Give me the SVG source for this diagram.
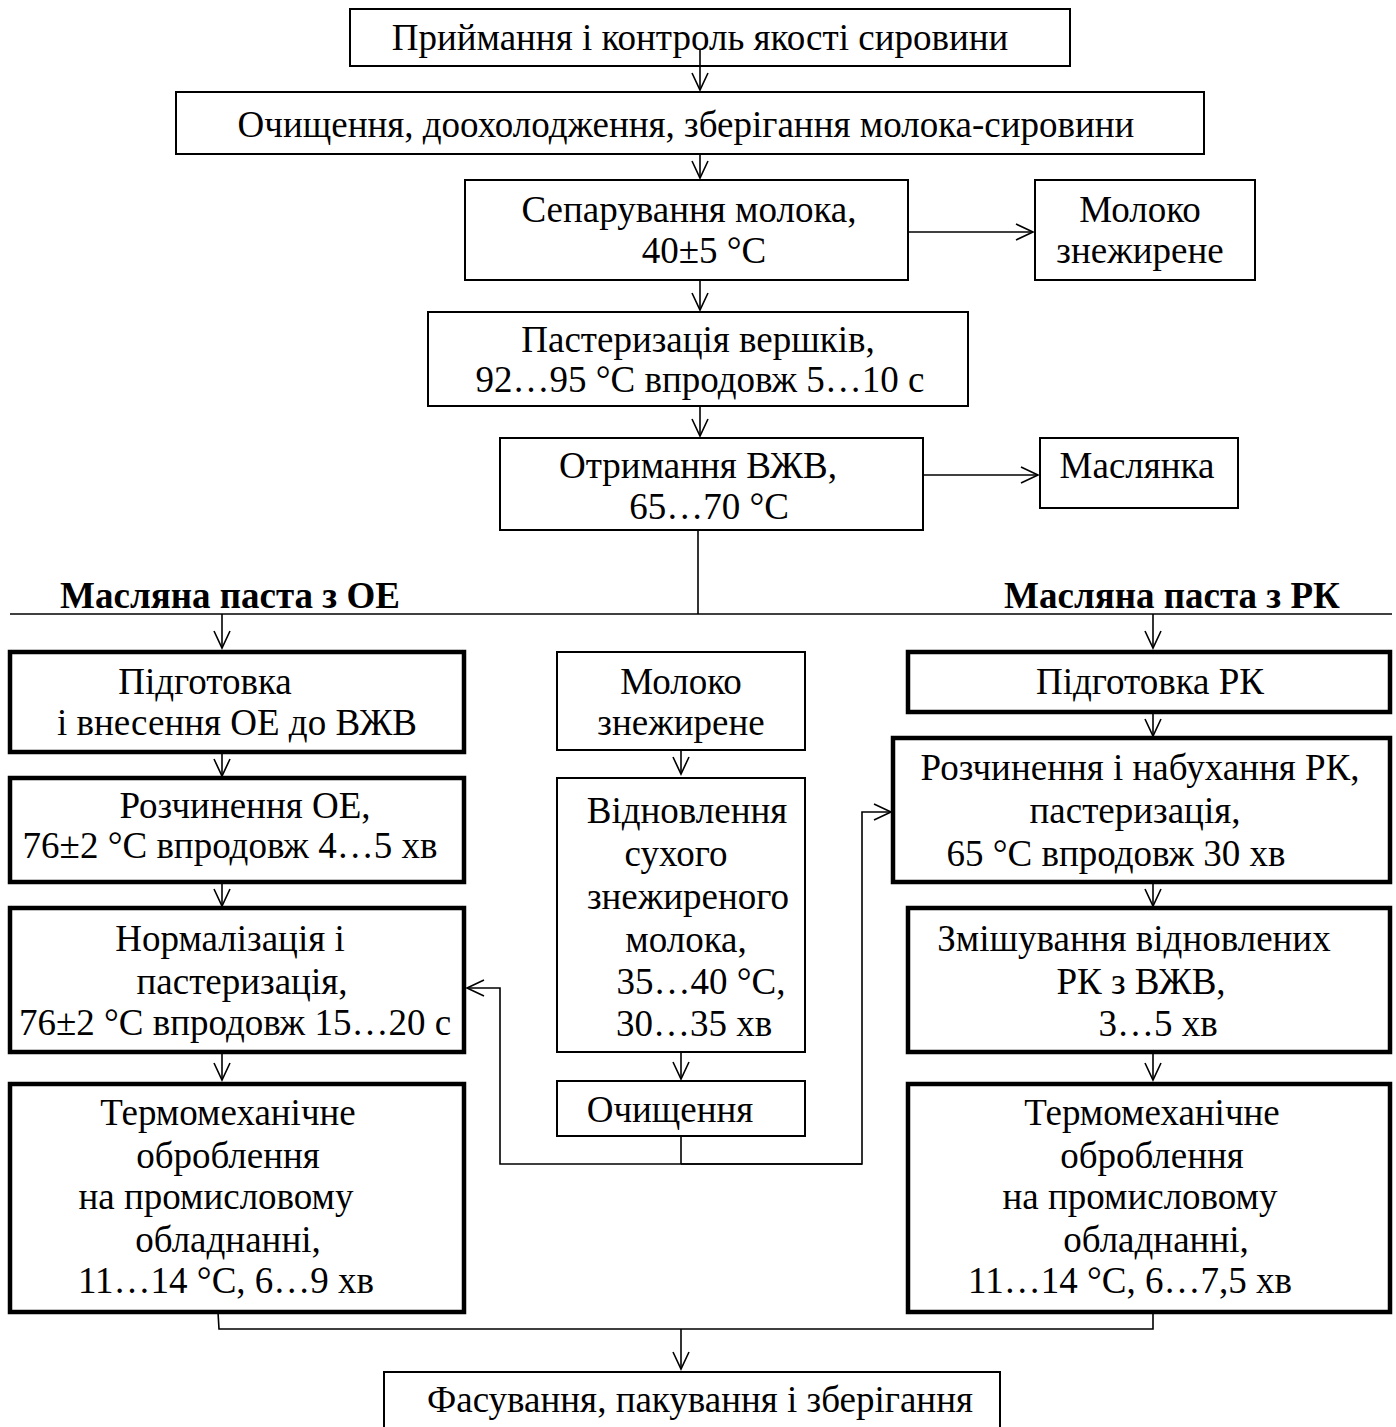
<svg xmlns="http://www.w3.org/2000/svg" width="1396" height="1427" viewBox="0 0 1396 1427">
<defs>
<marker id="ah" markerUnits="userSpaceOnUse" markerWidth="22" markerHeight="22" viewBox="-20 -11 22 22" refX="0" refY="0" orient="auto">
<path d="M-17,-8 L0,0 L-17,8" fill="none" stroke="#000" stroke-width="1.6"/>
</marker>
<style>
.b{fill:#fff;stroke:#000;stroke-width:2}
.k{fill:#fff;stroke:#000;stroke-width:4.5}
.t{font-family:"Liberation Serif","Times New Roman",serif;font-size:37px;fill:#000;text-anchor:middle}
.h{font-family:"Liberation Serif","Times New Roman",serif;font-size:37px;font-weight:bold;fill:#000;text-anchor:middle}
.c{fill:none;stroke:#000;stroke-width:1.6}
.a{fill:none;stroke:#000;stroke-width:1.6;marker-end:url(#ah)}
</style>
</defs>
<rect width="1396" height="1427" fill="#fff"/>

<g id="n1"><rect class="b" x="350" y="9" width="720" height="57"/><text class="t" x="700" y="50">Приймання і контроль якості сировини</text></g>
<g id="n2"><rect class="b" x="176" y="92" width="1028" height="62"/><text class="t" x="686" y="137">Очищення, доохолодження, зберігання молока-сировини</text></g>
<g id="n3"><rect class="b" x="465" y="180" width="443" height="100"/><text class="t" x="689" y="222">Сепарування молока,</text><text class="t" x="704" y="263">40±5 °С</text></g>
<g id="n3b"><rect class="b" x="1035" y="180" width="220" height="100"/><text class="t" x="1140" y="222">Молоко</text><text class="t" x="1140" y="263">знежирене</text></g>
<g id="n4"><rect class="b" x="428" y="312" width="540" height="94"/><text class="t" x="698" y="352">Пастеризація вершків,</text><text class="t" x="700" y="392">92…95 °С впродовж 5…10 с</text></g>
<g id="n5"><rect class="b" x="500" y="438" width="423" height="92"/><text class="t" x="698" y="478">Отримання ВЖВ,</text><text class="t" x="709" y="519">65…70 °С</text></g>
<g id="n5b"><rect class="b" x="1040" y="438" width="198" height="70"/><text class="t" x="1137" y="478">Маслянка</text></g>

<g id="labels"><text class="h" x="230" y="608">Масляна паста з ОЕ</text><text class="h" x="1172" y="608">Масляна паста з РК</text></g>

<g id="l1"><rect class="k" x="10" y="652" width="454" height="100"/><text class="t" x="205" y="694">Підготовка</text><text class="t" x="237" y="735">і внесення ОЕ до ВЖВ</text></g>
<g id="l2"><rect class="k" x="10" y="778" width="454" height="104"/><text class="t" x="245" y="818">Розчинення ОЕ,</text><text class="t" x="230" y="858">76±2 °С впродовж 4…5 хв</text></g>
<g id="l3"><rect class="k" x="10" y="908" width="454" height="144"/><text class="t" x="230" y="951">Нормалізація і</text><text class="t" x="242" y="994">пастеризація,</text><text class="t" x="235" y="1035">76±2 °С впродовж 15…20 с</text></g>
<g id="l4"><rect class="k" x="10" y="1084" width="454" height="228"/><text class="t" x="228" y="1125">Термомеханічне</text><text class="t" x="228" y="1168">оброблення</text><text class="t" x="216" y="1209">на промисловому</text><text class="t" x="228" y="1252">обладнанні,</text><text class="t" x="226" y="1293">11…14 °С, 6…9 хв</text></g>

<g id="c1"><rect class="b" x="557" y="652" width="248" height="98"/><text class="t" x="681" y="694">Молоко</text><text class="t" x="681" y="735">знежирене</text></g>
<g id="c2"><rect class="b" x="557" y="778" width="248" height="274"/><text class="t" x="687" y="823">Відновлення</text><text class="t" x="676" y="866">сухого</text><text class="t" x="688" y="909">знежиреного</text><text class="t" x="686" y="952">молока,</text><text class="t" x="701" y="994">35…40 °С,</text><text class="t" x="694" y="1036">30…35 хв</text></g>
<g id="c3"><rect class="b" x="557" y="1081" width="248" height="55"/><text class="t" x="670" y="1122">Очищення</text></g>

<g id="r1"><rect class="k" x="908" y="652" width="482" height="60"/><text class="t" x="1150" y="694">Підготовка РК</text></g>
<g id="r2"><rect class="k" x="893" y="738" width="497" height="144"/><text class="t" x="1140" y="780">Розчинення і набухання РК,</text><text class="t" x="1135" y="823">пастеризація,</text><text class="t" x="1116" y="866">65 °С впродовж 30 хв</text></g>
<g id="r3"><rect class="k" x="908" y="908" width="482" height="144"/><text class="t" x="1134" y="951">Змішування відновлених</text><text class="t" x="1141" y="994">РК з ВЖВ,</text><text class="t" x="1158" y="1036">3…5 хв</text></g>
<g id="r4"><rect class="k" x="908" y="1084" width="482" height="228"/><text class="t" x="1152" y="1125">Термомеханічне</text><text class="t" x="1152" y="1168">оброблення</text><text class="t" x="1140" y="1209">на промисловому</text><text class="t" x="1156" y="1252">обладнанні,</text><text class="t" x="1130" y="1293">11…14 °С, 6…7,5 хв</text></g>

<g id="n6"><rect class="b" x="384" y="1372" width="616" height="70"/><text class="t" x="700" y="1412">Фасування, пакування і зберігання</text></g>

<g id="connectors">
<line class="a" x1="700" y1="50" x2="700" y2="90"/>
<line class="a" x1="700" y1="154" x2="700" y2="178"/>
<line class="a" x1="908" y1="232" x2="1033" y2="232"/>
<line class="a" x1="700" y1="280" x2="700" y2="310"/>
<line class="a" x1="700" y1="406" x2="700" y2="436"/>
<line class="a" x1="923" y1="475" x2="1038" y2="475"/>
<line class="c" x1="698" y1="530" x2="698" y2="614"/>
<line class="c" x1="10" y1="614" x2="1392" y2="614"/>
<line class="a" x1="222" y1="614" x2="222" y2="648"/>
<line class="a" x1="222" y1="752" x2="222" y2="776"/>
<line class="a" x1="222" y1="882" x2="222" y2="906"/>
<line class="a" x1="222" y1="1052" x2="222" y2="1080"/>
<line class="a" x1="1153" y1="614" x2="1153" y2="648"/>
<line class="a" x1="1153" y1="712" x2="1153" y2="736"/>
<line class="a" x1="1153" y1="882" x2="1153" y2="906"/>
<line class="a" x1="1153" y1="1052" x2="1153" y2="1080"/>
<line class="a" x1="681" y1="750" x2="681" y2="774"/>
<line class="a" x1="681" y1="1052" x2="681" y2="1079"/>
<polyline class="c" points="681,1136 681,1164"/>
<polyline class="a" points="862,1164 500,1164 500,988 467,988"/>
<polyline class="a" points="681,1164 862,1164 862,812 891,812"/>
<polyline class="c" points="218,1312 219,1329 1153,1329 1153,1312"/>
<line class="a" x1="681" y1="1329" x2="681" y2="1369"/>
</g>
</svg>
